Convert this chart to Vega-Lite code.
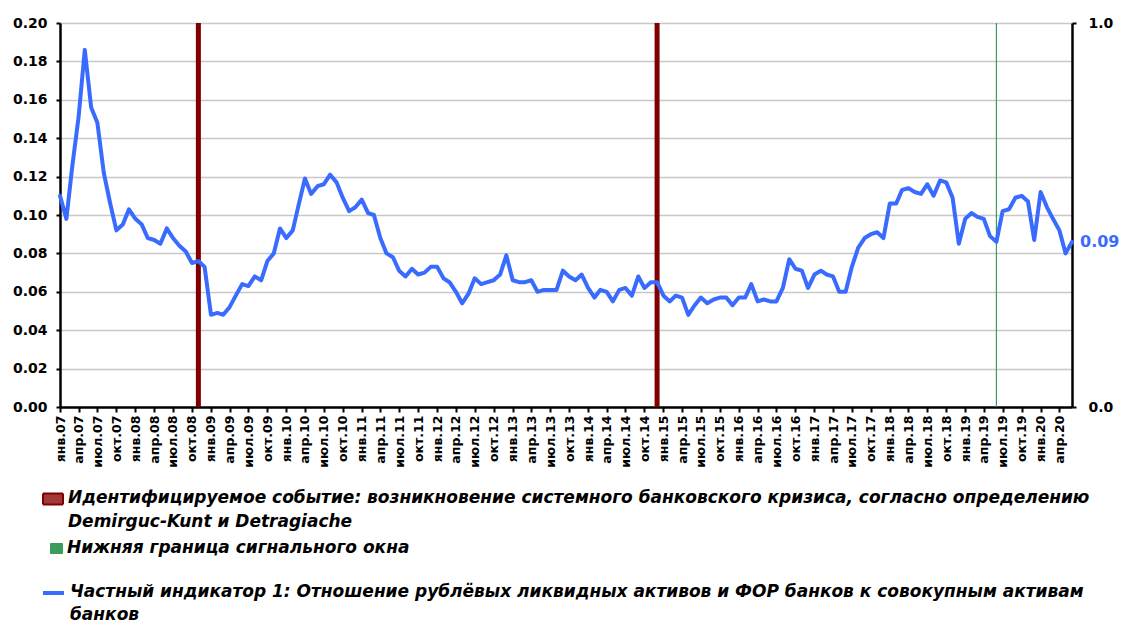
{
  "$schema": "https://vega.github.io/schema/vega-lite/v6.json",
  "width": 1012,
  "height": 384,
  "autosize": {"type": "none"},
  "padding": {"left": 60, "top": 23, "right": 49, "bottom": 217},
  "background": "white",
  "config": {"view": {"stroke": null}, "font": "DejaVu Sans", "legend": {"labelFont": "DejaVu Sans", "labelFontSize": 17, "labelFontWeight": "bold", "labelFontStyle": "italic", "labelColor": "black", "labelLimit": 1100, "labelBaseline": "top", "labelOffset": 4, "padding": 0, "symbolSize": 400}},
  "datasets": {
    "ind": [
      {"d":"2007-01-01","v":0.110},{"d":"2007-02-01","v":0.098},{"d":"2007-03-01","v":0.125},{"d":"2007-04-01","v":0.151},{"d":"2007-05-01","v":0.186},{"d":"2007-06-01","v":0.156},{"d":"2007-07-01","v":0.148},{"d":"2007-08-01","v":0.122},{"d":"2007-09-01","v":0.106},{"d":"2007-10-01","v":0.092},{"d":"2007-11-01","v":0.095},{"d":"2007-12-01","v":0.103},
      {"d":"2008-01-01","v":0.098},{"d":"2008-02-01","v":0.095},{"d":"2008-03-01","v":0.088},{"d":"2008-04-01","v":0.087},{"d":"2008-05-01","v":0.085},{"d":"2008-06-01","v":0.093},{"d":"2008-07-01","v":0.088},{"d":"2008-08-01","v":0.084},{"d":"2008-09-01","v":0.081},{"d":"2008-10-01","v":0.075},{"d":"2008-11-01","v":0.076},{"d":"2008-12-01","v":0.073},
      {"d":"2009-01-01","v":0.048},{"d":"2009-02-01","v":0.049},{"d":"2009-03-01","v":0.048},{"d":"2009-04-01","v":0.052},{"d":"2009-05-01","v":0.058},{"d":"2009-06-01","v":0.064},{"d":"2009-07-01","v":0.063},{"d":"2009-08-01","v":0.068},{"d":"2009-09-01","v":0.066},{"d":"2009-10-01","v":0.076},{"d":"2009-11-01","v":0.080},{"d":"2009-12-01","v":0.093},
      {"d":"2010-01-01","v":0.088},{"d":"2010-02-01","v":0.092},{"d":"2010-03-01","v":0.105},{"d":"2010-04-01","v":0.119},{"d":"2010-05-01","v":0.111},{"d":"2010-06-01","v":0.115},{"d":"2010-07-01","v":0.116},{"d":"2010-08-01","v":0.121},{"d":"2010-09-01","v":0.117},{"d":"2010-10-01","v":0.109},{"d":"2010-11-01","v":0.102},{"d":"2010-12-01","v":0.104},
      {"d":"2011-01-01","v":0.108},{"d":"2011-02-01","v":0.101},{"d":"2011-03-01","v":0.100},{"d":"2011-04-01","v":0.088},{"d":"2011-05-01","v":0.080},{"d":"2011-06-01","v":0.078},{"d":"2011-07-01","v":0.071},{"d":"2011-08-01","v":0.068},{"d":"2011-09-01","v":0.072},{"d":"2011-10-01","v":0.069},{"d":"2011-11-01","v":0.070},{"d":"2011-12-01","v":0.073},
      {"d":"2012-01-01","v":0.073},{"d":"2012-02-01","v":0.067},{"d":"2012-03-01","v":0.065},{"d":"2012-04-01","v":0.060},{"d":"2012-05-01","v":0.054},{"d":"2012-06-01","v":0.059},{"d":"2012-07-01","v":0.067},{"d":"2012-08-01","v":0.064},{"d":"2012-09-01","v":0.065},{"d":"2012-10-01","v":0.066},{"d":"2012-11-01","v":0.069},{"d":"2012-12-01","v":0.079},
      {"d":"2013-01-01","v":0.066},{"d":"2013-02-01","v":0.065},{"d":"2013-03-01","v":0.065},{"d":"2013-04-01","v":0.066},{"d":"2013-05-01","v":0.060},{"d":"2013-06-01","v":0.061},{"d":"2013-07-01","v":0.061},{"d":"2013-08-01","v":0.061},{"d":"2013-09-01","v":0.071},{"d":"2013-10-01","v":0.068},{"d":"2013-11-01","v":0.066},{"d":"2013-12-01","v":0.069},
      {"d":"2014-01-01","v":0.062},{"d":"2014-02-01","v":0.057},{"d":"2014-03-01","v":0.061},{"d":"2014-04-01","v":0.060},{"d":"2014-05-01","v":0.055},{"d":"2014-06-01","v":0.061},{"d":"2014-07-01","v":0.062},{"d":"2014-08-01","v":0.058},{"d":"2014-09-01","v":0.068},{"d":"2014-10-01","v":0.062},{"d":"2014-11-01","v":0.065},{"d":"2014-12-01","v":0.065},
      {"d":"2015-01-01","v":0.058},{"d":"2015-02-01","v":0.055},{"d":"2015-03-01","v":0.058},{"d":"2015-04-01","v":0.057},{"d":"2015-05-01","v":0.048},{"d":"2015-06-01","v":0.053},{"d":"2015-07-01","v":0.057},{"d":"2015-08-01","v":0.054},{"d":"2015-09-01","v":0.056},{"d":"2015-10-01","v":0.057},{"d":"2015-11-01","v":0.057},{"d":"2015-12-01","v":0.053},
      {"d":"2016-01-01","v":0.057},{"d":"2016-02-01","v":0.057},{"d":"2016-03-01","v":0.064},{"d":"2016-04-01","v":0.055},{"d":"2016-05-01","v":0.056},{"d":"2016-06-01","v":0.055},{"d":"2016-07-01","v":0.055},{"d":"2016-08-01","v":0.062},{"d":"2016-09-01","v":0.077},{"d":"2016-10-01","v":0.072},{"d":"2016-11-01","v":0.071},{"d":"2016-12-01","v":0.062},
      {"d":"2017-01-01","v":0.069},{"d":"2017-02-01","v":0.071},{"d":"2017-03-01","v":0.069},{"d":"2017-04-01","v":0.068},{"d":"2017-05-01","v":0.060},{"d":"2017-06-01","v":0.060},{"d":"2017-07-01","v":0.073},{"d":"2017-08-01","v":0.083},{"d":"2017-09-01","v":0.088},{"d":"2017-10-01","v":0.090},{"d":"2017-11-01","v":0.091},{"d":"2017-12-01","v":0.088},
      {"d":"2018-01-01","v":0.106},{"d":"2018-02-01","v":0.106},{"d":"2018-03-01","v":0.113},{"d":"2018-04-01","v":0.114},{"d":"2018-05-01","v":0.112},{"d":"2018-06-01","v":0.111},{"d":"2018-07-01","v":0.116},{"d":"2018-08-01","v":0.110},{"d":"2018-09-01","v":0.118},{"d":"2018-10-01","v":0.117},{"d":"2018-11-01","v":0.109},{"d":"2018-12-01","v":0.085},
      {"d":"2019-01-01","v":0.098},{"d":"2019-02-01","v":0.101},{"d":"2019-03-01","v":0.099},{"d":"2019-04-01","v":0.098},{"d":"2019-05-01","v":0.089},{"d":"2019-06-01","v":0.086},{"d":"2019-07-01","v":0.102},{"d":"2019-08-01","v":0.103},{"d":"2019-09-01","v":0.109},{"d":"2019-10-01","v":0.110},{"d":"2019-11-01","v":0.107},{"d":"2019-12-01","v":0.087},
      {"d":"2020-01-01","v":0.112},{"d":"2020-02-01","v":0.104},{"d":"2020-03-01","v":0.098},{"d":"2020-04-01","v":0.092},{"d":"2020-05-01","v":0.080},{"d":"2020-06-01","v":0.086}
    ],
    "crisis": [{"d":"2008-11-01"},{"d":"2014-12-01"}],
    "window": [{"d":"2019-06-01"}],
    "right": [{"r":0}]
  },
  "layer": [
    {
      "data": {"name": "crisis"},
      "mark": {"type": "rule", "strokeWidth": 5, "color": "#800000"},
      "encoding": {
        "x": {"field": "d", "type": "temporal"},
        "strokeDash": {
          "datum": "Идентифицируемое событие: возникновение системного банковского кризиса, согласно определению|Demirguc-Kunt и Detragiache", "type": "nominal",
          "scale": {"range": [[1, 0]]},
          "legend": {"orient": "none", "legendX": -18, "legendY": 465, "title": null, "labelExpr": "split(datum.label, '|')",
            "symbolType": "M-1,-0.55L1,-0.55L1,0.55L-1,0.55Z", "symbolFillColor": "#a03a3a", "symbolStrokeColor": "#800000", "symbolStrokeWidth": 2,
            "encode": {"labels": {"update": {"lineHeight": {"value": 24}, "dy": {"value": -9}}}}}
        }
      }
    },
    {
      "data": {"name": "window"},
      "mark": {"type": "rule", "strokeWidth": 1.2, "color": "#3a9d5d"},
      "encoding": {
        "x": {"field": "d", "type": "temporal"},
        "opacity": {
          "datum": "Нижняя граница сигнального окна", "type": "ordinal",
          "scale": {"range": [1]},
          "legend": {"orient": "none", "legendX": -18, "legendY": 515, "title": null,
            "symbolType": "M-0.2,-0.5L1,-0.5L1,0.5L-0.2,0.5Z", "symbolFillColor": "#3a9d5d", "symbolStrokeColor": "#3a9d5d", "symbolStrokeWidth": 1,
            "encode": {"labels": {"update": {"lineHeight": {"value": 24}, "dy": {"value": -9}}}}}
        }
      }
    },
    {
      "data": {"name": "ind"},
      "mark": {"type": "line", "strokeWidth": 4, "strokeJoin": "round", "strokeCap": "round"},
      "encoding": {
        "x": {
          "field": "d", "type": "temporal",
          "scale": {"type": "utc", "domain": [{"year": 2007, "month": 1, "date": 1, "utc": true}, {"year": 2020, "month": 6, "date": 1, "utc": true}]},
          "axis": {
            "title": null, "grid": false,
            "tickCount": {"interval": "month", "step": 3},
            "labelExpr": "['янв','фев','мар','апр','май','июн','июл','авг','сен','окт','ноя','дек'][utcmonth(datum.value)] + '.' + utcFormat(datum.value, '%y')",
            "labelAngle": 270, "labelAlign": "right", "labelBaseline": "middle",
            "labelFont": "DejaVu Sans", "labelFontSize": 12.5, "labelFontWeight": "bold", "labelColor": "black",
            "labelOverlap": false, "labelFlush": false, "labelPadding": 3,
            "domainColor": "black", "domainWidth": 2.5,
            "tickColor": "black", "tickWidth": 2, "tickSize": 5
          }
        },
        "y": {
          "field": "v", "type": "quantitative",
          "scale": {"domain": [0, 0.2], "nice": false},
          "axis": {
            "title": null, "values": [0, 0.02, 0.04, 0.06, 0.08, 0.1, 0.12, 0.14, 0.16, 0.18, 0.2], "format": ".2f",
            "grid": true, "gridColor": "#c8c8c8", "gridWidth": 1.5,
            "labelFont": "DejaVu Sans", "labelFontSize": 14, "labelFontWeight": "bold", "labelColor": "black", "labelPadding": 9,
            "domainColor": "black", "domainWidth": 2.5,
            "tickColor": "black", "tickWidth": 2, "tickSize": 4
          }
        },
        "color": {
          "datum": "Частный индикатор 1: Отношение рублёвых ликвидных активов и ФОР банков к совокупным активам|банков", "type": "nominal",
          "scale": {"range": ["#3a6bff"]},
          "legend": {"orient": "none", "legendX": -18, "legendY": 558, "title": null, "labelExpr": "split(datum.label, '|')",
            "symbolType": "M-1.1,0L1,0", "symbolStrokeWidth": 4,
            "encode": {"labels": {"update": {"lineHeight": {"value": 23}, "dy": {"value": -9}}}}}
        }
      }
    },
    {
      "data": {"name": "ind"},
      "transform": [{"filter": "utcyear(datum.d) == 2020 && utcmonth(datum.d) == 5"}],
      "mark": {"type": "text", "align": "left", "baseline": "middle", "dx": 8, "fontSize": 16, "fontWeight": "bold", "font": "DejaVu Sans", "color": "#3a6bff"},
      "encoding": {
        "x": {"field": "d", "type": "temporal"},
        "y": {"field": "v", "type": "quantitative", "scale": {"domain": [0, 0.2], "nice": false}, "axis": null},
        "text": {"field": "v", "type": "quantitative", "format": ".2f"}
      }
    },
    {
      "data": {"name": "right"},
      "mark": {"type": "rule", "strokeOpacity": 0},
      "encoding": {
        "y": {
          "field": "r", "type": "quantitative",
          "scale": {"domain": [0, 1], "nice": false},
          "axis": {
            "orient": "right", "title": null, "values": [0, 1], "format": ".1f", "grid": false,
            "labelFont": "DejaVu Sans", "labelFontSize": 14, "labelFontWeight": "bold", "labelColor": "black", "labelPadding": 12,
            "domainColor": "black", "domainWidth": 2.5,
            "tickColor": "black", "tickWidth": 2, "tickSize": 4
          }
        }
      }
    }
  ],
  "resolve": {"scale": {"y": "independent"}}
}
